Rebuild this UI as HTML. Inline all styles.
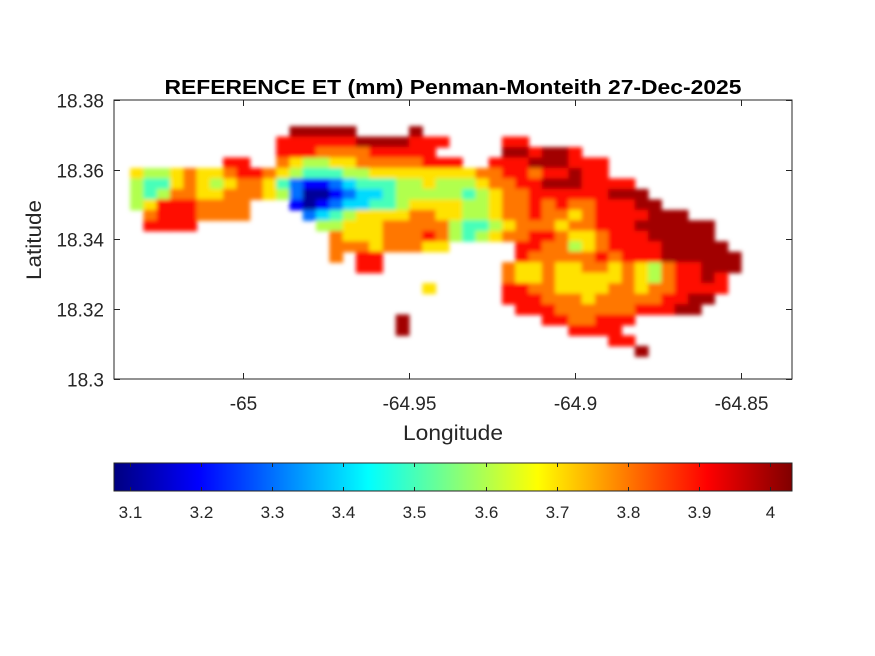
<!DOCTYPE html>
<html><head><meta charset="utf-8"><style>
body{margin:0;background:#fff;}
svg{display:block;font-family:"Liberation Sans",Arial,sans-serif;}
</style></head><body>
<svg id="fig" width="875" height="656" viewBox="0 0 875 656">
<defs>
<linearGradient id="jetgrad" x1="0" x2="1" y1="0" y2="0"></linearGradient>
<filter id="soft" x="-5%" y="-5%" width="110%" height="110%"><feGaussianBlur stdDeviation="2.2"/></filter>
</defs>
<g id="cells" filter="url(#soft)"></g>
<rect x="114" y="100" width="678" height="279" fill="none" stroke="#262626" stroke-width="1"/>
<g id="axes"></g>
<text x="453" y="94" text-anchor="middle" font-size="20" font-weight="bold" fill="#000" textLength="577" lengthAdjust="spacingAndGlyphs">REFERENCE ET (mm) Penman-Monteith 27-Dec-2025</text>
<text x="453" y="440" text-anchor="middle" font-size="21" fill="#262626" textLength="100" lengthAdjust="spacingAndGlyphs">Longitude</text>
<text x="41" y="240" text-anchor="middle" font-size="21" fill="#262626" transform="rotate(-90 41 240)" textLength="80" lengthAdjust="spacingAndGlyphs">Latitude</text>
<rect x="114" y="463" width="678" height="28" fill="url(#jetgrad)" stroke="#262626" stroke-width="1"/>
<g id="cbticks"></g>
</svg>
<script>
const xTicks = [-65, -64.95, -64.9, -64.85];
const xTickLabels = ["-65", "-64.95", "-64.9", "-64.85"];
const yTicks = [18.3, 18.32, 18.34, 18.36, 18.38];
const yTickLabels = ["18.3", "18.32", "18.34", "18.36", "18.38"];
const cbTicks = [3.1, 3.2, 3.3, 3.4, 3.5, 3.6, 3.7, 3.8, 3.9, 4];
const cbTickLabels = ["3.1","3.2","3.3","3.4","3.5","3.6","3.7","3.8","3.9","4"];
const lonStart = -65.036, lonStep = 0.004;
const latStart = 18.371, latStep = 0.003;
// ET levels: digit d => 3.1 + 0.1*d, '.' = no data
const etRows = [
".............99999....9........................",
"............8888889999888....88................",
"............888777788888.....998998............",
"........88..76556677777888..888999888..........",
"." + "6556766788" + "7654445566" + "6666667788" + "788988" + "..........",
".54467656776421123444556555677889998888........",
"." + "5457766777" + "6520012334" + "5555545677" + "888888999" + ".......",
"." + "568887777." + "..10123344" + "5666655677" + "8787788899" + "......",
"..78887777....23456666776655677877678888999....",
".." + "8888" + "........." + "556667" + "7777544567" + "7767788899" + "9999" + "..",
"................" + "76667" + "7787545677" + "8876678889" + "9999" + "..",
"................" + "777677766" + "....." + "8877567888" + "899999" + ".",
"................7.88..........87777787888999999",
"..................88.........766766776765788999",
".............................76676666676578898.",
".......................6.....88776666776778888.",
".............................8887776777778899..",
"..............................88877777788899...",
".....................9..........8877888........",
".....................9............8888.........",
".....................................88........",
".......................................9......."
];
const vMin = 3.077, vMax = 4.031;
function xScale(lon){ return 243 + (lon + 65) * 3320; }
function yScale(lat){ return 100 + (18.38 - lat) * 3487.5; }
function cbScale(v){ return 130 + (v - 3.1) * 711; }
function jet(v){
  let t = Math.max(0, Math.min(1, (v - vMin) / (vMax - vMin)));
  const c = k => Math.round(255 * Math.max(0, Math.min(1, 1.5 - Math.abs(4*t - k))));
  return `rgb(${c(3)},${c(2)},${c(1)})`;
}
const NS = "http://www.w3.org/2000/svg";
const cells = document.getElementById('cells');
const cw = lonStep * 3320, ch = latStep * 3487.5;
etRows.forEach((row, r) => {
  for (let c = 0; c < row.length; c++) {
    const ch0 = row[c];
    if (ch0 < '0' || ch0 > '9') continue;
    const v = 3.1 + 0.1 * (+ch0);
    const lon = lonStart + lonStep * c, lat = latStart - latStep * r;
    const rect = document.createElementNS(NS, 'rect');
    rect.setAttribute('x', (xScale(lon) - cw/2).toFixed(2));
    rect.setAttribute('y', (yScale(lat) - ch/2).toFixed(2));
    rect.setAttribute('width', (cw + 0.6).toFixed(2));
    rect.setAttribute('height', (ch + 0.6).toFixed(2));
    rect.setAttribute('fill', jet(v));
    
    
    cells.appendChild(rect);
  }
});
const axes = document.getElementById('axes');
function line(x1,y1,x2,y2,parent){
  const l = document.createElementNS(NS,'line');
  l.setAttribute('x1',x1);l.setAttribute('y1',y1);l.setAttribute('x2',x2);l.setAttribute('y2',y2);
  l.setAttribute('stroke','#262626');l.setAttribute('stroke-width','1');
  parent.appendChild(l); return l;
}
function text(x,y,s,anchor,size,parent,name){
  const t = document.createElementNS(NS,'text');
  t.setAttribute('x',x);t.setAttribute('y',y);t.setAttribute('text-anchor',anchor);
  t.setAttribute('font-size',size);t.setAttribute('fill','#262626');
  t.textContent = s;
  
  
  parent.appendChild(t); return t;
}
xTicks.forEach((v,i)=>{
  const x = Math.round(xScale(v))+0.5;
  line(x,379,x,373,axes); line(x,100,x,106,axes);
  text(x,410,xTickLabels[i],'middle',19,axes,'x-tick-label');
});
yTicks.forEach((v,i)=>{
  const y = Math.round(yScale(v))+0.5;
  line(114,y,120,y,axes); line(792,y,786,y,axes);
  text(104,y+7,yTickLabels[i],'end',19,axes,'y-tick-label');
});
const grad = document.getElementById('jetgrad');
for (let i=0;i<=40;i++){
  const v = vMin + (vMax - vMin) * i / 40;
  const s = document.createElementNS(NS,'stop');
  s.setAttribute('offset', (i/40));
  s.setAttribute('stop-color', jet(v));
  grad.appendChild(s);
}
const cbt = document.getElementById('cbticks');
cbTicks.forEach((v,i)=>{
  const x = Math.round(cbScale(v))+0.5;
  line(x,491,x,487,cbt); line(x,463,x,467,cbt);
  text(x,518,cbTickLabels[i],'middle',17,cbt,'colorbar-tick-label');
});
</script>
</body></html>
